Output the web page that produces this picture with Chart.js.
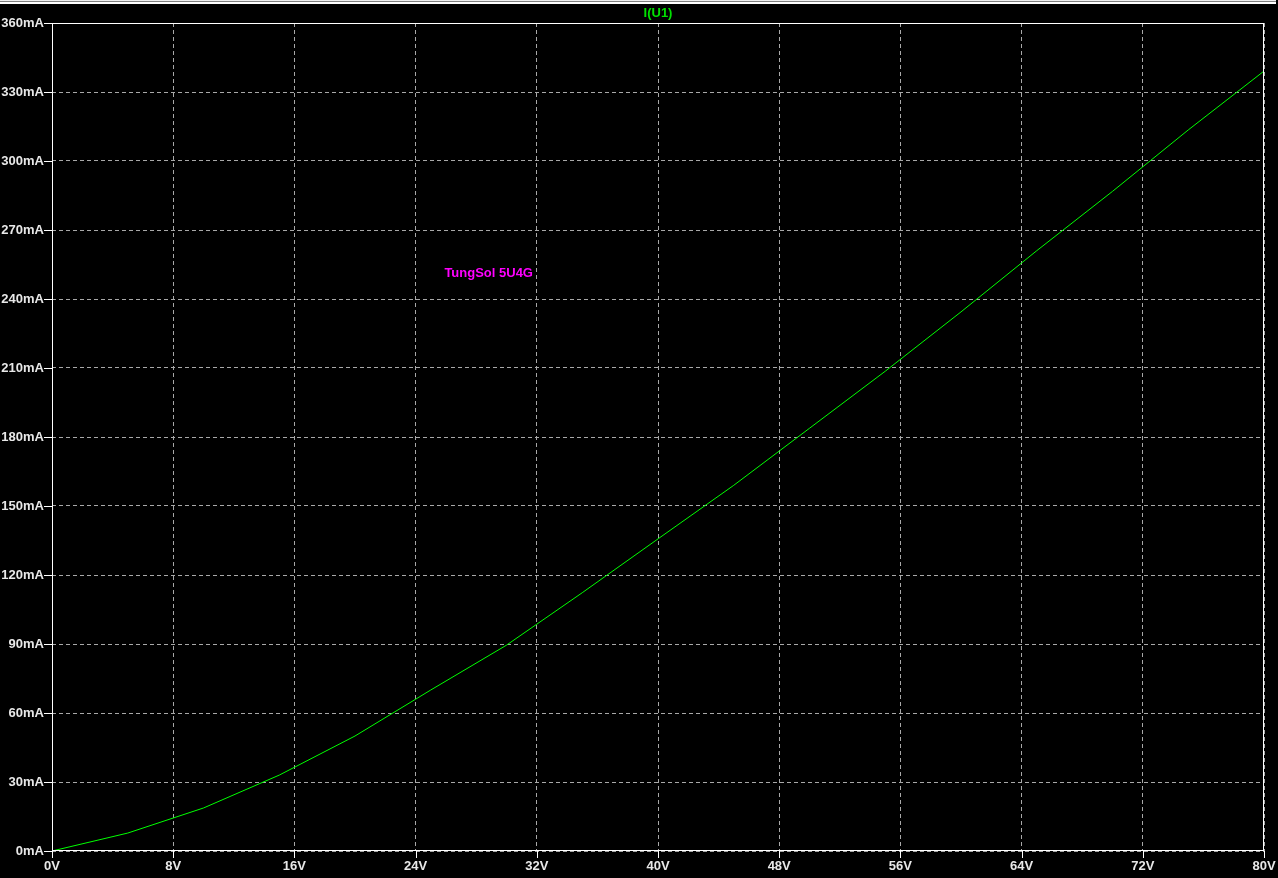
<!DOCTYPE html>
<html>
<head>
<meta charset="utf-8">
<script src="https://cdn.jsdelivr.net/npm/chart.js@4/dist/chart.umd.min.js"></script>
<style>
  html, body { margin: 0; padding: 0; background: #000; overflow: hidden; }
  #wrap { position: absolute; left: 0; top: 0; width: 1278px; height: 878px; }
</style>
</head>
<body>
<div id="wrap"><canvas id="myChart"></canvas></div>
<script>
// anode voltage (V) and current (mA)
const volts = [0, 5, 10, 15, 20, 25, 30, 35, 40, 45, 50, 55, 60, 65, 70, 75, 80];
const currents = [0, 7.8, 18.7, 33, 50, 70, 89.5, 112.3, 135.7, 159, 183.8, 208.6, 234.4, 261, 286.8, 313.5, 339.1];

const traceName = "I(U1)";
const noteText = "TungSol 5U4G";
const notePos = { x: 25.9, y: 251 };

const xMin = 0, xMax = 80, xStep = 8;
const yMin = 0, yMax = 360, yStep = 30;

const labelFont = { family: "'Liberation Sans', Arial, sans-serif", size: 13, weight: "bold" };

function getPoints() {
  let pts = [];
  volts.forEach((v, i) => {
    pts.push({ x: v, y: currents[i] });
  });
  return pts;
}

const spicePlugin = {
  id: "spice",
  beforeDraw(chart) {
    const ctx = chart.ctx;
    ctx.save();
    ctx.fillStyle = "#000";
    ctx.fillRect(0, 0, chart.width, chart.height);
    // window edge at the top
    ctx.fillStyle = "#f0f0f0";
    ctx.fillRect(0, 0, 1276, 1);
    ctx.fillStyle = "#808080";
    ctx.fillRect(0, 1, 1276, 1);
    ctx.fillStyle = "#ffffff";
    ctx.fillRect(0, 2, 1276, 2);
    ctx.restore();
  },
  afterDraw(chart) {
    const ctx = chart.ctx;
    const area = chart.chartArea;
    const xs = chart.scales.x;
    const ys = chart.scales.y;
    ctx.save();
    ctx.strokeStyle = "#ffffff";
    ctx.lineWidth = 1;
    ctx.setLineDash([]);
    ctx.strokeRect(Math.round(area.left) + 0.5, Math.round(area.top) + 0.5,
      Math.round(area.right - area.left) - 1, Math.round(area.bottom - area.top) - 1);

    // tick marks
    ctx.beginPath();
    xs.ticks.forEach((t) => {
      const px = Math.round(xs.getPixelForValue(t.value)) + 0.5;
      ctx.moveTo(px, area.bottom);
      ctx.lineTo(px, area.bottom + 7);
    });
    ys.ticks.forEach((t) => {
      const py = Math.round(ys.getPixelForValue(t.value)) + 0.5;
      ctx.moveTo(area.left - 8, py);
      ctx.lineTo(area.left, py);
    });
    ctx.stroke();

    // trace name
    ctx.fillStyle = "#00e000";
    ctx.font = "bold 13px 'Liberation Sans', Arial, sans-serif";
    ctx.textAlign = "center";
    ctx.textBaseline = "middle";
    ctx.fillText(traceName, (area.left + area.right) / 2, 13);

    // annotation
    ctx.fillStyle = "#ff00ff";
    ctx.textAlign = "left";
    ctx.fillText(noteText, xs.getPixelForValue(notePos.x), ys.getPixelForValue(notePos.y));
    ctx.restore();
  }
};

const ctx = document.getElementById("myChart");
const chart = new Chart(ctx, {
  type: "line",
  data: {
    datasets: [
      {
        data: getPoints(),
        borderColor: "#00ff00",
        backgroundColor: "#00ff00",
        borderWidth: 1,
        pointRadius: 0,
        tension: 0,
        fill: false,
      },
    ],
  },
  options: {
    responsive: true,
    maintainAspectRatio: false,
    animation: false,
    layout: {
      padding: { top: 23, right: 14, left: 0, bottom: 0 },
    },
    plugins: {
      legend: { display: false },
      tooltip: { enabled: false },
    },
    scales: {
      x: {
        type: "linear",
        min: xMin,
        max: xMax,
        afterFit: (scale) => {
          scale.height = 27;
          scale.paddingLeft = 0;
          scale.paddingRight = 0;
        },
        ticks: {
          stepSize: xStep,
          autoSkip: false,
          maxRotation: 0,
          padding: 8,
          color: "#e8e8e8",
          font: labelFont,
          callback: (v) => v + "V",
        },
        grid: {
          drawTicks: false,
          color: "#a8a8a8",
          lineWidth: 1,
        },
        border: {
          display: false,
          dash: [4, 3],
        },
      },
      y: {
        min: yMin,
        max: yMax,
        afterFit: (scale) => {
          scale.width = 52;
          scale.paddingTop = 0;
          scale.paddingBottom = 0;
        },
        ticks: {
          stepSize: yStep,
          autoSkip: false,
          padding: 8,
          color: "#e8e8e8",
          font: labelFont,
          callback: (v) => v + "mA",
        },
        grid: {
          drawTicks: false,
          color: "#a8a8a8",
          lineWidth: 1,
        },
        border: {
          display: false,
          dash: [4, 3],
        },
      },
    },
  },
  plugins: [spicePlugin],
});
</script>
</body>
</html>
